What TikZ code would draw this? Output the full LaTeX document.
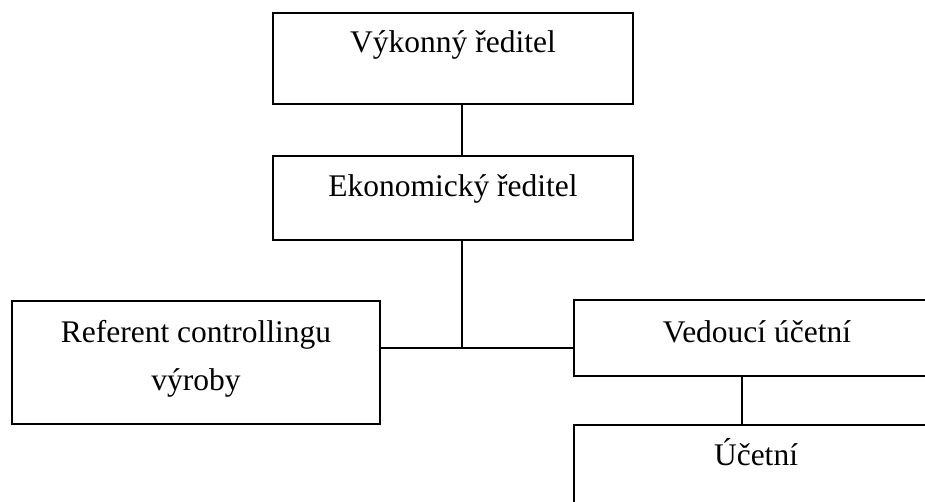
\documentclass[tikz,border=0pt]{standalone}
\usepackage{fontspec}
\setmainfont{Liberation Serif}
\begin{document}
\begin{tikzpicture}[x=1pt,y=-1pt,
  box/.style={draw=black,line width=1.6pt,rectangle,inner sep=0pt,outer sep=0pt},
  txt/.style={anchor=base,inner sep=0pt,font=\fontsize{31.5}{48}\selectfont},
  conn/.style={draw=black,line width=1.6pt}]
\useasboundingbox (0,0) rectangle (925,502);
\clip (0,0) rectangle (925,502);
\node[box,minimum width=360pt,minimum height=91pt] (b1) at (453,58.5) {};
\node[box,minimum width=360pt,minimum height=84pt] (b2) at (453,198) {};
\node[box,minimum width=368pt,minimum height=123pt] (b3) at (196,362.5) {};
\node[box,minimum width=366pt,minimum height=76pt] (b4) at (757,338) {};
\node[box,minimum width=366pt,minimum height=90pt] (b5) at (757,470) {};
\node[txt] (t1) at (453,53) {Výkonný ředitel};
\node[txt] (t2) at (453,197) {Ekonomický ředitel};
\node[txt] (t3a) at (196,342) {Referent controllingu};
\node[txt] (t3b) at (196,390) {výroby};
\node[txt] (t4) at (757,342) {Vedoucí účetní};
\node[txt] (t5) at (756,465) {Účetní};
\coordinate (j) at (462,348);
\coordinate (k) at (742,0);
\draw[conn] (j |- b1.south) -- (j |- b2.north);
\draw[conn] (j |- b2.south) -- (j);
\draw[conn] (b3.east |- j) -- (b4.west |- j);
\draw[conn] (k |- b4.south) -- (k |- b5.north);
\end{tikzpicture}
\end{document}
